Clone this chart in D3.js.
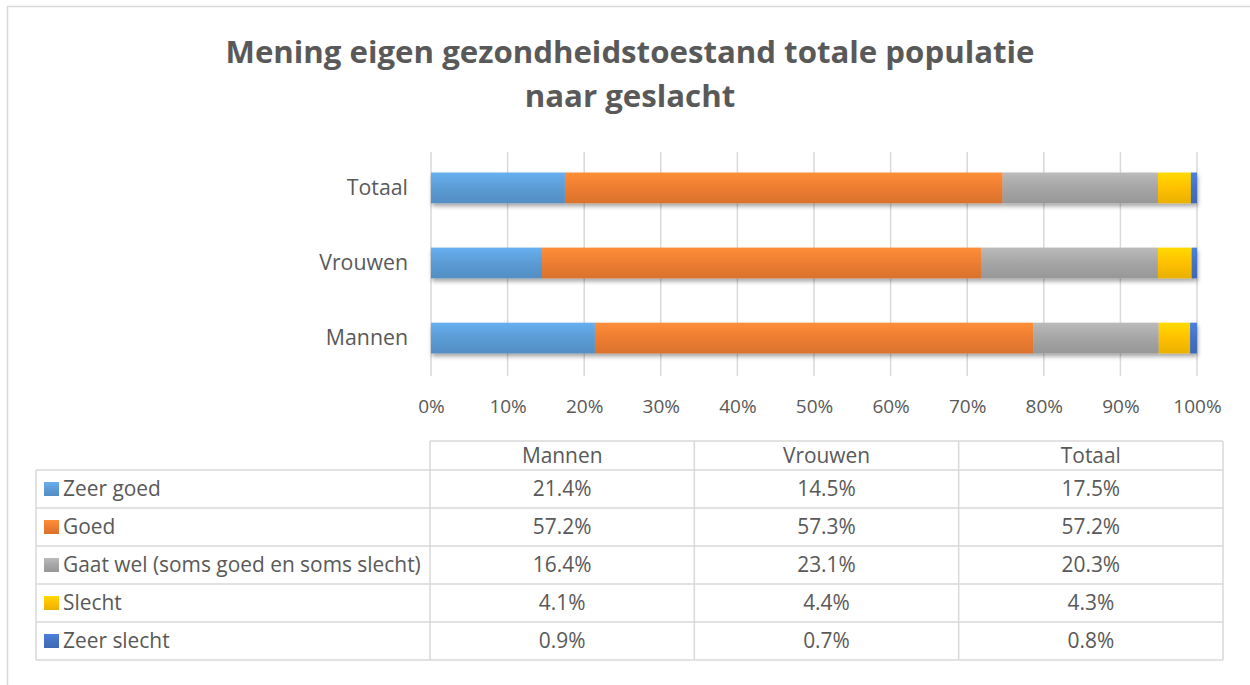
<!DOCTYPE html>
<html>
<head>
<meta charset="utf-8">
<script src="https://cdn.jsdelivr.net/npm/d3@7"></script>
<style>
  body { margin: 0; background: #fff; }
  svg { display: block; font-family: "Open Sans", sans-serif; }
</style>
</head>
<body>
<div class="chart"></div>
<script>
// data
const categories = ["Totaal", "Vrouwen", "Mannen"];
const tableColumns = ["Mannen", "Vrouwen", "Totaal"];
const seriesNames = ["Zeer goed", "Goed", "Gaat wel (soms goed en soms slecht)", "Slecht", "Zeer slecht"];
const mannen  = [21.4, 57.2, 16.4, 4.1, 0.9];
const vrouwen = [14.5, 57.3, 23.1, 4.4, 0.7];
const totaal  = [17.5, 57.2, 20.3, 4.3, 0.8];
const xTicks = [0, 10, 20, 30, 40, 50, 60, 70, 80, 90, 100];
const titleLines = ["Mening eigen gezondheidstoestand totale populatie", "naar geslacht"];

const valuesBy = { "Mannen": mannen, "Vrouwen": vrouwen, "Totaal": totaal };
const colors = ["#5B9BD5", "#ED7D31", "#A5A5A5", "#FFC000", "#4472C4"];

var cfg = {
  width: 1250,
  height: 685,
  textColor: "#595959",
  gridColor: "#D9D9D9",
  tableFont: 20.9,
  plot: { left: 431, right: 1197, top: 152, bottom: 376 },
  table: { labelLeft: 36, left: 430, right: 1223, headTop: 441, top: 470, bottom: 660 }
};

var scale = {
  x: d3.scaleLinear().domain([0, 100]).range([cfg.plot.left, cfg.plot.right]),
  y: d3.scaleBand().domain(categories)
      .range([cfg.plot.top - 2, cfg.plot.bottom])
      .paddingInner(0.59).paddingOuter(0.3),
  col: d3.scaleBand().domain(tableColumns).range([cfg.table.left, cfg.table.right]),
  row: d3.scaleBand().domain(seriesNames).range([cfg.table.top, cfg.table.bottom])
};

var svg = d3.select(".chart").append("svg")
  .attr("width", cfg.width)
  .attr("height", cfg.height);

// gradients + shadow
var defs = svg.append("defs");
colors.forEach((c, i) => {
  var g = defs.append("linearGradient")
    .attr("id", "grad" + i)
    .attr("x1", 0).attr("y1", 0).attr("x2", 0).attr("y2", 1);
  g.append("stop").attr("offset", "0%").attr("stop-color", d3.color(c).brighter(0.35));
  g.append("stop").attr("offset", "50%").attr("stop-color", c);
  g.append("stop").attr("offset", "100%").attr("stop-color", d3.color(c).darker(0.25));
});
defs.append("filter").attr("id", "shadow")
  .attr("x", "-5%").attr("y", "-30%").attr("width", "110%").attr("height", "180%")
  .append("feDropShadow")
  .attr("dx", 1).attr("dy", 3).attr("stdDeviation", 2)
  .attr("flood-color", "#000").attr("flood-opacity", 0.35);

// outer chart border
svg.append("rect")
  .attr("x", 7.5).attr("y", 6.5)
  .attr("width", cfg.width).attr("height", cfg.height)
  .attr("fill", "none")
  .attr("stroke", cfg.gridColor)
  .attr("stroke-width", 1.5);

// title
svg.append("g").selectAll("text")
  .data(titleLines)
  .enter().append("text")
  .attr("x", 630)
  .attr("y", (d, i) => 63 + i * 44)
  .attr("text-anchor", "middle")
  .attr("font-size", 31.2)
  .attr("font-weight", "bold")
  .attr("fill", cfg.textColor)
  .text(d => d);

// gridlines
svg.append("g").selectAll("line")
  .data(xTicks)
  .enter().append("line")
  .attr("x1", d => scale.x(d)).attr("x2", d => scale.x(d))
  .attr("y1", cfg.plot.top).attr("y2", cfg.plot.bottom)
  .attr("stroke", cfg.gridColor)
  .attr("stroke-width", 1.5);

// x axis labels
var xAxis = svg.append("g")
  .attr("transform", `translate(0, ${cfg.plot.bottom + 8})`)
  .call(d3.axisBottom(scale.x).tickValues(xTicks).tickFormat(d => d + "%").tickSize(0).tickPadding(16));
xAxis.select(".domain").remove();
xAxis.selectAll("text")
  .attr("font-family", "Open Sans")
  .attr("font-size", 19)
  .attr("fill", cfg.textColor);

// y axis labels
var yAxis = svg.append("g")
  .attr("transform", `translate(${cfg.plot.left}, 0)`)
  .call(d3.axisLeft(scale.y).tickSize(0).tickPadding(23));
yAxis.select(".domain").remove();
yAxis.selectAll("text")
  .attr("font-family", "Open Sans")
  .attr("font-size", 21.3)
  .attr("dy", "0.33em")
  .attr("fill", cfg.textColor);

// stacked bars (100% stacked)
categories.forEach(cat => {
  var vals = valuesBy[cat];
  var sum = d3.sum(vals);
  var acc = 0;
  var segs = vals.map((v, i) => {
    var s = { i: i, x0: acc / sum * 100, x1: (acc + v) / sum * 100 };
    acc += v;
    return s;
  });
  var g = svg.append("g").attr("filter", "url(#shadow)");
  g.selectAll("rect")
    .data(segs)
    .enter().append("rect")
    .attr("x", d => scale.x(d.x0))
    .attr("width", d => scale.x(d.x1) - scale.x(d.x0))
    .attr("y", scale.y(cat))
    .attr("height", scale.y.bandwidth())
    .attr("fill", d => `url(#grad${d.i})`);
});

// data table
var t = cfg.table;
var tg = svg.append("g");
var border = { stroke: cfg.gridColor, w: 1.5 };

// horizontal lines
var hLines = [t.top].concat(seriesNames.map(s => scale.row(s) + scale.row.bandwidth()));
tg.selectAll("line.h")
  .data(hLines)
  .enter().append("line")
  .attr("x1", t.labelLeft).attr("x2", t.right)
  .attr("y1", d => d).attr("y2", d => d)
  .attr("stroke", border.stroke).attr("stroke-width", border.w);
tg.append("line")
  .attr("x1", t.left).attr("x2", t.right)
  .attr("y1", t.headTop).attr("y2", t.headTop)
  .attr("stroke", border.stroke).attr("stroke-width", border.w);

// vertical lines
var vLines = [t.left].concat(tableColumns.map(c => scale.col(c) + scale.col.bandwidth()));
tg.selectAll("line.v")
  .data(vLines)
  .enter().append("line")
  .attr("x1", d => d).attr("x2", d => d)
  .attr("y1", t.headTop).attr("y2", t.bottom)
  .attr("stroke", border.stroke).attr("stroke-width", border.w);
tg.append("line")
  .attr("x1", t.labelLeft).attr("x2", t.labelLeft)
  .attr("y1", t.top).attr("y2", t.bottom)
  .attr("stroke", border.stroke).attr("stroke-width", border.w);

// header
tg.selectAll("text.head")
  .data(tableColumns)
  .enter().append("text")
  .attr("x", d => scale.col(d) + scale.col.bandwidth() / 2)
  .attr("y", t.headTop + 22)
  .attr("text-anchor", "middle")
  .attr("font-size", cfg.tableFont)
  .attr("fill", cfg.textColor)
  .text(d => d);

// legend keys + labels
seriesNames.forEach((s, i) => {
  var y0 = scale.row(s);
  tg.append("rect")
    .attr("x", 44).attr("y", y0 + 12)
    .attr("width", 15).attr("height", 14)
    .attr("fill", `url(#grad${i})`);
  tg.append("text")
    .attr("x", 63).attr("y", y0 + 26)
    .attr("font-size", cfg.tableFont)
    .attr("fill", cfg.textColor)
    .text(s);
  tableColumns.forEach(c => {
    tg.append("text")
      .attr("x", scale.col(c) + scale.col.bandwidth() / 2)
      .attr("y", y0 + 26)
      .attr("text-anchor", "middle")
      .attr("font-size", cfg.tableFont)
      .attr("fill", cfg.textColor)
      .text(valuesBy[c][i].toFixed(1) + "%");
  });
});
</script>
</body>
</html>
